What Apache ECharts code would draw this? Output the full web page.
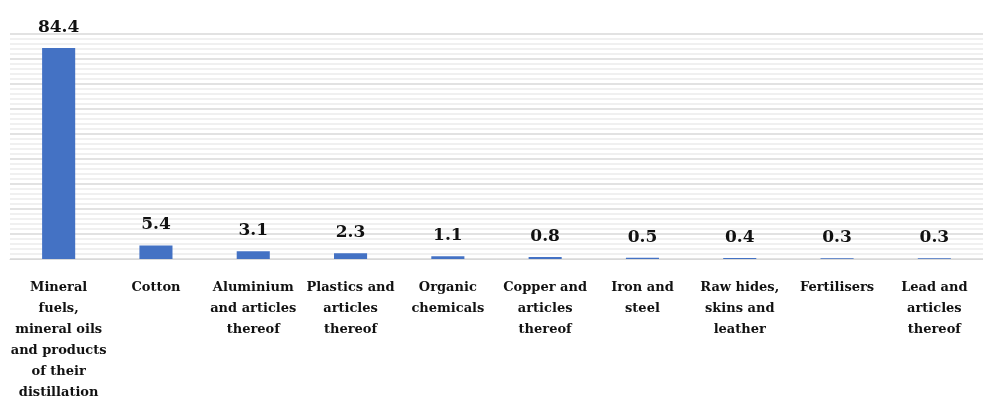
<!DOCTYPE html>
<html>
<head>
<meta charset="utf-8">
<script src="https://cdn.jsdelivr.net/npm/echarts@6/dist/echarts.min.js"></script>
<style>html,body{margin:0;padding:0;background:#fff}#c{width:983px;height:403px}</style>
</head>
<body>
<div id="c"></div>
<script>
const categories = [
  "Mineral\nfuels,\nmineral oils\nand products\nof their\ndistillation",
  "Cotton",
  "Aluminium\nand articles\nthereof",
  "Plastics and\narticles\nthereof",
  "Organic\nchemicals",
  "Copper and\narticles\nthereof",
  "Iron and\nsteel",
  "Raw hides,\nskins and\nleather",
  "Fertilisers",
  "Lead and\narticles\nthereof"
];
const values = [84.4, 5.4, 3.1, 2.3, 1.1, 0.8, 0.5, 0.4, 0.3, 0.3];
const yMax = 90;
const yInterval = 10;

const serif = '"Book Antiqua","Palatino Linotype","DejaVu Serif","Liberation Serif",serif';
const chart = echarts.init(document.getElementById('c'));
chart.setOption({
  animation: false,
  grid: {left: 10, right: 0, top: 34, bottom: 136, containLabel: false},
  xAxis: {
    type: 'category',
    data: categories,
    axisLine: {show: true, lineStyle: {color: '#d9d9d9', width: 1}},
    axisTick: {show: false},
    axisLabel: {interval: 0, margin: 18, fontFamily: serif, fontWeight: 'bold', fontSize: 13, color: '#111', lineHeight: 21, align: 'center'}
  },
  yAxis: {
    type: 'value',
    min: 0, max: yMax, interval: yInterval,
    axisLabel: {show: false},
    axisLine: {show: false},
    axisTick: {show: false},
    splitLine: {show: true, lineStyle: {color: '#d9d9d9', width: 1.5}},
    minorTick: {show: false, splitNumber: 5},
    minorSplitLine: {show: true, lineStyle: {color: '#ececec', width: 1.5}}
  },
  series: [{
    type: 'bar',
    data: values,
    barWidth: '34%',
    itemStyle: {color: '#4472C4'},
    label: {
      show: true, position: 'top', distance: 12,
      fontFamily: serif, fontWeight: 'bold', fontSize: 17, color: '#111',
      formatter: p => p.value.toFixed(1)
    }
  }]
});
</script>
</body>
</html>
